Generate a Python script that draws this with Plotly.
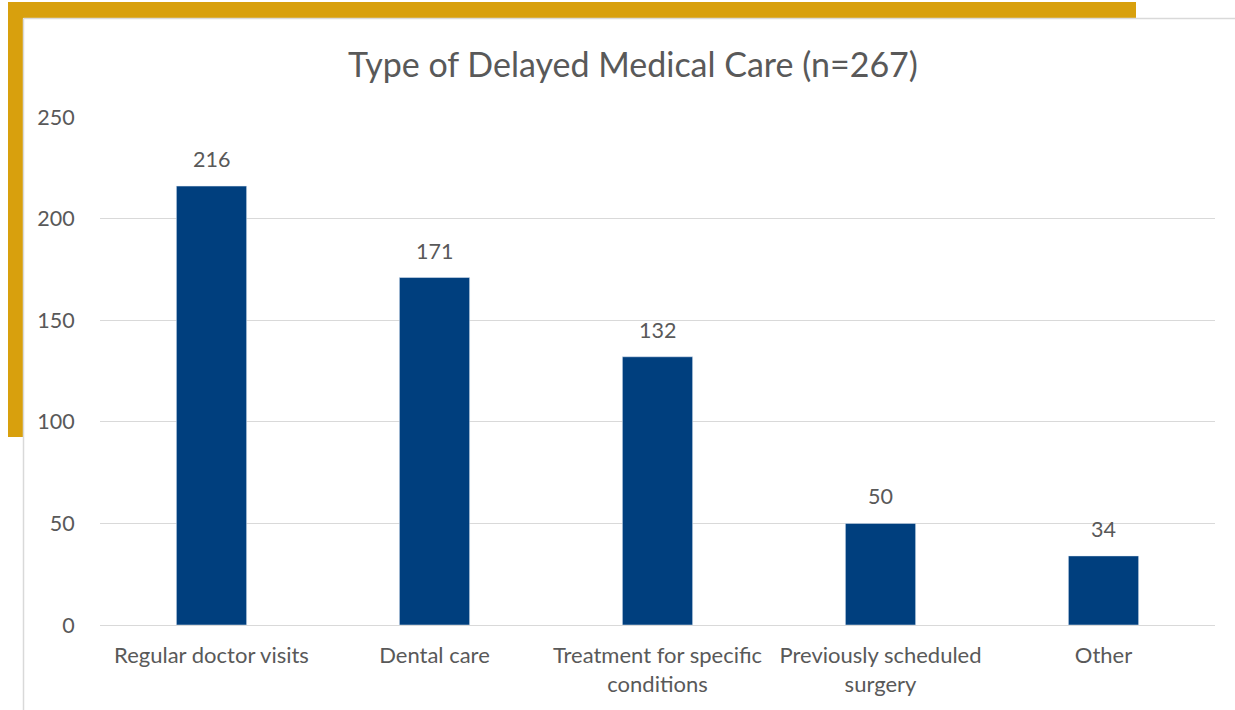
import plotly.graph_objects as go

categories = ["Regular doctor visits", "Dental care", "Treatment for specific<br>conditions",
              "Previously scheduled<br>surgery", "Other"]
counts = [216, 171, 132, 50, 34]
y_ticks = [0, 50, 100, 150, 200, 250]

GOLD = "#D8A00D"
BAR = "#003F7E"
GREY_TEXT = "#595959"
GRID = "#D9D9D9"
FONT = "Lato, Carlito, Calibri, sans-serif"

W, H = 1235, 710
L, R, T, B = 100, 20, 117, 85


def px_x(p):
    return (p - L) / (W - L - R)


def px_y(p):
    return (H - B - p) / (H - T - B)


fig = go.Figure(go.Bar(x=categories, y=counts, marker_color=BAR, width=0.315))

for cat, val in zip(categories, counts):
    fig.add_annotation(x=cat, y=val, text=str(val), showarrow=False, yanchor="bottom",
                       yshift=12, font=dict(size=21.5, color=GREY_TEXT, family=FONT))

# gold frame + grey panel border
fig.add_shape(type="rect", xref="paper", yref="paper", x0=px_x(8), x1=px_x(1136),
              y0=px_y(18), y1=px_y(2), fillcolor=GOLD, line_width=0, layer="below")
fig.add_shape(type="rect", xref="paper", yref="paper", x0=px_x(8), x1=px_x(23),
              y0=px_y(437), y1=px_y(2), fillcolor=GOLD, line_width=0, layer="below")
fig.add_shape(type="line", xref="paper", yref="paper", x0=px_x(23.5), x1=px_x(1235),
              y0=px_y(18.5), y1=px_y(18.5), line=dict(color=GRID, width=1.5))
fig.add_shape(type="line", xref="paper", yref="paper", x0=px_x(23.5), x1=px_x(23.5),
              y0=px_y(18.5), y1=px_y(710), line=dict(color=GRID, width=1.5))

fig.update_layout(
    width=W, height=H,
    margin=dict(l=L, r=R, t=T, b=B),
    paper_bgcolor="white", plot_bgcolor="white",
    font=dict(family=FONT, color=GREY_TEXT, size=21),
    title=dict(text="Type of Delayed Medical Care (n=267)", xref="container", x=633 / W,
               xanchor="center", y=1 - 65 / H, yanchor="middle",
               font=dict(size=34, color=GREY_TEXT, family=FONT)),
    showlegend=False,
    bargap=0.685,
)
fig.update_yaxes(range=[0, 250], tickvals=y_ticks, showgrid=True, gridcolor=GRID, gridwidth=1,
                 zeroline=True, zerolinecolor=GRID, zerolinewidth=1, showline=False,
                 ticks="outside", ticklen=20, tickcolor="rgba(0,0,0,0)",
                 tickfont=dict(size=21.5, color=GREY_TEXT))
fig.update_xaxes(showgrid=False, showline=False, ticks="outside", ticklen=11,
                 tickcolor="rgba(0,0,0,0)", tickfont=dict(size=22, color=GREY_TEXT))

# drop the browser's default 8px body margin so the figure sits at the page origin
fig.write_html("out.html", config={"displayModeBar": False},
               post_script="document.body.style.margin='0';")
